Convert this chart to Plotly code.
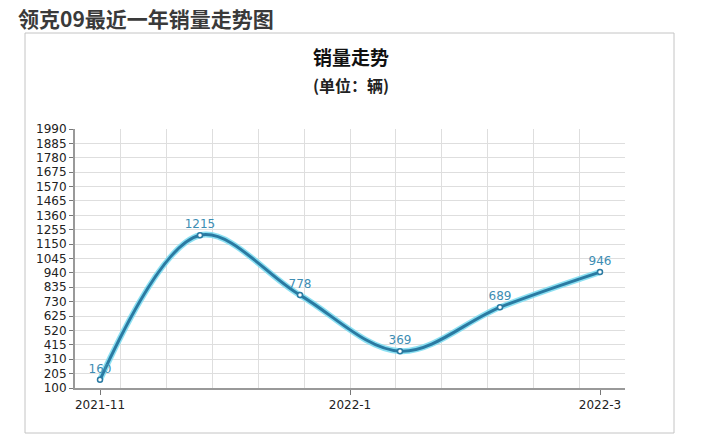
import plotly.graph_objects as go

# sales data (6 points, evenly spaced on the axis)
points = [0, 1, 2, 3, 4, 5]
sales = [160, 1215, 778, 369, 689, 946]
tick_pos = [0, 2.5, 5]
tick_labels = ["2021-11", "2022-1", "2022-3"]

page_title = "领克09最近一年销量走势图"
chart_title = "销量走势"
chart_unit = "(单位：辆)"

W, H = 712, 441
L, R, T, B = 75, 625, 129, 388  # plot area in pixels
X_RANGE = [-0.25, 5.25]


def px(x):
    return (x - L) / (R - L)


def py(y):
    return (B - y) / (B - T)


CJK = "Noto Sans CJK SC"
NUM = "DejaVu Sans"

fig = go.Figure()

# light halo under the line
fig.add_trace(go.Scatter(
    x=points, y=sales, mode="lines",
    line=dict(color="rgba(120,218,240,0.85)", width=6, shape="spline"),
    hoverinfo="skip",
))
fig.add_trace(go.Scatter(
    x=points, y=sales, mode="lines+markers+text",
    line=dict(color="#2a7aa2", width=3, shape="spline"),
    marker=dict(size=5, color="white", line=dict(color="#2a7aa2", width=1.5)),
    text=[str(v) for v in sales],
    textposition="top center",
    textfont=dict(family=NUM, size=12, color="#3d8db3"),
))

fig.update_layout(
    width=W, height=H,
    margin=dict(l=L, r=W - R, t=T, b=H - B),
    paper_bgcolor="white",
    plot_bgcolor="white",
    showlegend=False,
    xaxis=dict(
        range=X_RANGE,
        tickvals=tick_pos, ticktext=tick_labels,
        showgrid=False, zeroline=False,
        showline=True, linecolor="#999999", linewidth=2,
        ticks="outside", ticklen=5, tickcolor="#777777",
        tickfont=dict(family=NUM, size=12, color="#222222"),
        # vertical grid: 12 equal slices of the plot width
        minor=dict(
            tickmode="linear", tick0=X_RANGE[0],
            dtick=(X_RANGE[1] - X_RANGE[0]) / 12,
            showgrid=True, gridcolor="#dedede", gridwidth=1, ticks="",
        ),
    ),
    yaxis=dict(
        range=[100, 1990], tick0=100, dtick=105,
        showgrid=True, gridcolor="#dedede", gridwidth=1,
        zeroline=False,
        showline=True, linecolor="#999999", linewidth=2,
        ticks="outside", ticklen=4, tickcolor="#777777",
        tickfont=dict(family=NUM, size=12, color="#222222"),
    ),
)

# outer frame around the chart
fig.add_shape(
    type="rect", xref="paper", yref="paper",
    x0=px(25), x1=px(674), y0=py(433), y1=py(33),
    line=dict(color="#c4c4c4", width=1), layer="below",
)

fig.add_annotation(
    text="<b>" + page_title + "</b>", xref="paper", yref="paper",
    x=px(16), y=py(1), xanchor="left", yanchor="top",
    showarrow=False, font=dict(family=CJK, size=21, color="#3a3a3a"),
)
fig.add_annotation(
    text="<b>" + chart_title + "</b>", xref="paper", yref="paper",
    x=px(351), y=py(57), xanchor="center", yanchor="middle",
    showarrow=False, font=dict(family=CJK, size=19, color="#111111"),
)
fig.add_annotation(
    text="<b>" + chart_unit + "</b>", xref="paper", yref="paper",
    x=px(351), y=py(85), xanchor="center", yanchor="middle",
    showarrow=False, font=dict(family=CJK, size=16, color="#222222"),
)

fig.write_html(
    "out.html",
    config={"displayModeBar": False},
    post_script="document.body.style.margin='0';",
)
